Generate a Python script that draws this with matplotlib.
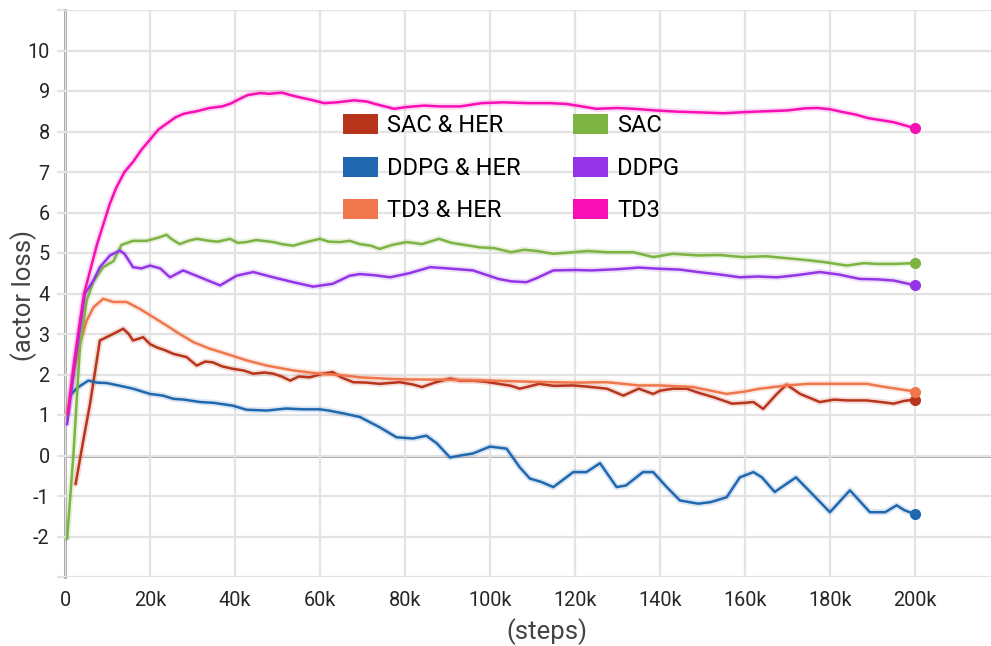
import matplotlib
matplotlib.use('Agg')
import matplotlib.pyplot as plt
from matplotlib.patches import Patch

plt.rcParams['font.family'] = ['Roboto', 'DejaVu Sans']

# values, x in thousands of steps
td3_x = [0.7, 2, 3.5, 4.5, 6, 7.5, 9, 10.5, 12, 14, 16, 18, 20, 22, 24, 26, 28, 31, 34, 37, 39, 41, 43, 46, 48, 51, 53, 55, 58, 61, 64, 68, 71, 73, 77.5, 80, 84.5, 88, 93, 98, 103, 109, 114, 118, 121, 125, 130, 134, 139, 144, 150, 155, 160, 165, 170, 174, 177, 180, 183, 186, 189, 192, 195, 197, 200]
td3_y = [1.05, 2.2, 3.3, 4.0, 4.6, 5.2, 5.7, 6.2, 6.6, 7.0, 7.25, 7.55, 7.8, 8.05, 8.2, 8.35, 8.44, 8.5, 8.58, 8.62, 8.69, 8.8, 8.9, 8.95, 8.93, 8.96, 8.9, 8.85, 8.78, 8.7, 8.72, 8.77, 8.74, 8.68, 8.56, 8.6, 8.64, 8.62, 8.62, 8.7, 8.72, 8.7, 8.7, 8.68, 8.63, 8.56, 8.58, 8.56, 8.52, 8.49, 8.47, 8.45, 8.48, 8.5, 8.52, 8.57, 8.58, 8.55, 8.48, 8.42, 8.33, 8.28, 8.23, 8.17, 8.08]

sac_x = [0.5, 2, 3.5, 5.1, 6.7, 9, 11.4, 13.3, 16, 19.2, 22, 23.9, 25, 27, 29, 31, 34, 36, 38.8, 40.7, 42.7, 45, 49, 51, 53.7, 56, 60, 62, 64.7, 67, 69.4, 72, 74, 77, 80.4, 84, 88, 91, 94, 97.6, 101, 105, 108, 111, 114.9, 119.6, 123, 127.5, 133.7, 138.4, 143, 149, 154, 159.5, 165, 171, 175, 179, 184, 188, 191, 195, 200]
sac_y = [-2.05, 0.05, 2.67, 3.83, 4.3, 4.65, 4.8, 5.2, 5.3, 5.3, 5.38, 5.45, 5.35, 5.22, 5.3, 5.35, 5.3, 5.28, 5.35, 5.25, 5.27, 5.32, 5.27, 5.22, 5.18, 5.25, 5.35, 5.28, 5.27, 5.3, 5.22, 5.18, 5.1, 5.2, 5.27, 5.22, 5.35, 5.25, 5.2, 5.14, 5.12, 5.02, 5.08, 5.05, 4.98, 5.02, 5.05, 5.02, 5.02, 4.9, 4.98, 4.94, 4.95, 4.9, 4.92, 4.86, 4.82, 4.77, 4.69, 4.75, 4.73, 4.73, 4.75]

ddpg_x = [0.5, 2.5, 4.7, 6.7, 8.2, 10.6, 12.9, 14, 16, 18, 20, 22.4, 24.7, 27.8, 31.8, 36.5, 40.4, 44.3, 49, 53.7, 58.4, 63, 67, 69.4, 73, 76.5, 81, 85.9, 90, 96, 102, 105, 108.6, 111, 114.9, 120, 124, 130, 135, 140, 144.7, 149, 154, 158.8, 163, 167.5, 172, 177.6, 182, 187, 191, 195, 198, 200]
ddpg_y = [0.78, 2.4, 4.0, 4.32, 4.65, 4.94, 5.06, 4.98, 4.65, 4.62, 4.69, 4.62, 4.4, 4.57, 4.4, 4.2, 4.44, 4.53, 4.4, 4.28, 4.17, 4.24, 4.44, 4.48, 4.45, 4.4, 4.5, 4.65, 4.62, 4.57, 4.36, 4.3, 4.28, 4.38, 4.57, 4.58, 4.57, 4.6, 4.64, 4.61, 4.59, 4.53, 4.47, 4.4, 4.42, 4.4, 4.45, 4.53, 4.47, 4.36, 4.35, 4.32, 4.25, 4.2]

ddpg_her_x = [1.5, 3, 5.5, 7.5, 9.8, 13, 16, 20, 23, 25.5, 28, 31.8, 35, 39.5, 42.7, 47.5, 52, 56, 60, 62, 65.5, 69.4, 74, 78, 81.9, 85, 87.5, 90.6, 93, 96, 100, 103.9, 107, 109.4, 112, 114.9, 119.6, 122.7, 125.9, 129.8, 132, 136, 138.4, 141.6, 144.7, 149, 152, 155.7, 158.8, 162, 164, 167, 172, 175, 180, 184.7, 189.4, 193, 195.7, 197.5, 200]
ddpg_her_y = [1.52, 1.68, 1.85, 1.8, 1.79, 1.72, 1.65, 1.52, 1.48, 1.4, 1.38, 1.32, 1.3, 1.23, 1.13, 1.11, 1.16, 1.14, 1.14, 1.11, 1.04, 0.95, 0.7, 0.45, 0.42, 0.49, 0.3, -0.05, 0.0, 0.05, 0.22, 0.17, -0.29, -0.57, -0.65, -0.78, -0.41, -0.41, -0.19, -0.78, -0.74, -0.41, -0.41, -0.78, -1.11, -1.19, -1.15, -1.03, -0.54, -0.41, -0.54, -0.9, -0.54, -0.86, -1.4, -0.86, -1.4, -1.4, -1.23, -1.35, -1.45]

td3_her_x = [0.5, 2, 3.5, 5.1, 6.7, 9, 11.4, 14.5, 17.6, 20.7, 23.9, 27, 30.2, 34, 38, 42.7, 47.5, 53.7, 60, 65.5, 69.4, 75, 80, 90, 100, 110, 120, 127.5, 135, 140, 147.8, 155.7, 160, 163.5, 169.8, 175, 183, 188.6, 193, 200]
td3_her_y = [1.0, 2.0, 2.76, 3.33, 3.66, 3.87, 3.79, 3.79, 3.62, 3.42, 3.21, 3.0, 2.8, 2.64, 2.51, 2.35, 2.22, 2.1, 2.02, 1.98, 1.93, 1.9, 1.88, 1.87, 1.85, 1.82, 1.8, 1.81, 1.73, 1.73, 1.69, 1.52, 1.58, 1.65, 1.73, 1.77, 1.77, 1.77, 1.69, 1.58]

sac_her_x = [2.5, 4.3, 5.9, 8.2, 11.3, 13.7, 15, 16, 18.4, 20, 21.6, 23.5, 25.5, 28.6, 31, 33, 34.8, 37, 39.5, 42, 44.3, 47, 49, 51, 53, 55, 57.6, 60.7, 63, 65, 67.8, 71, 74, 78.8, 82, 84, 87, 90.6, 93, 96, 99, 102, 105, 107, 109, 111.6, 115, 119.6, 123, 127.5, 131.4, 135, 138.4, 140, 143, 146.3, 149, 152.6, 157, 160, 162, 164.3, 167.5, 169.8, 173, 177.6, 181, 184, 188.6, 192, 195, 197.5, 200]
sac_her_y = [-0.7, 0.37, 1.28, 2.84, 3.0, 3.13, 3.0, 2.84, 2.92, 2.75, 2.67, 2.6, 2.51, 2.43, 2.22, 2.32, 2.3, 2.2, 2.14, 2.1, 2.02, 2.05, 2.02, 1.95, 1.85, 1.95, 1.93, 2.02, 2.06, 1.93, 1.81, 1.8, 1.77, 1.81, 1.75, 1.69, 1.8, 1.9, 1.85, 1.85, 1.82, 1.77, 1.72, 1.65, 1.7, 1.77, 1.72, 1.73, 1.7, 1.65, 1.48, 1.65, 1.52, 1.6, 1.65, 1.65, 1.55, 1.44, 1.28, 1.3, 1.32, 1.15, 1.52, 1.75, 1.52, 1.32, 1.38, 1.36, 1.36, 1.32, 1.28, 1.35, 1.38]

names = ['SAC & HER', 'DDPG & HER', 'TD3 & HER', 'SAC', 'DDPG', 'TD3']
colors = ['#b8341b', '#1f68b0', '#ef774b', '#7cb342', '#9334e6', '#f70fb5']
series = [(sac_her_x, sac_her_y), (ddpg_her_x, ddpg_her_y), (td3_her_x, td3_her_y),
          (sac_x, sac_y), (ddpg_x, ddpg_y), (td3_x, td3_y)]

x_ticks = [0, 20, 40, 60, 80, 100, 120, 140, 160, 180, 200]
x_labels = ['0', '20k', '40k', '60k', '80k', '100k', '120k', '140k', '160k', '180k', '200k']
y_ticks = [-2, -1, 0, 1, 2, 3, 4, 5, 6, 7, 8, 9, 10]

fig = plt.figure(figsize=(9.91, 6.46), dpi=100)
ax = fig.add_axes([65/991, 1-577/646, 1-65/991, 567/646])

for (xs, ys), c in zip(series, colors):
    # faint halo like the raw curve behind the smoothed one
    ax.plot(xs, ys, color=c, lw=4.5, alpha=0.16, solid_capstyle='round', zorder=2)
    ax.plot(xs, ys, color=c, lw=1.8, zorder=3)
    ax.plot(xs[-1], ys[-1], 'o', color=c, ms=7, zorder=4)

ax.set_xlim(0, 217.9)
ax.set_ylim(-3, 11)
ax.set_xticks(x_ticks)
ax.set_xticklabels(x_labels)
ax.set_yticks(list(range(-3, 12)))
ax.set_yticklabels(['' if v not in y_ticks else str(v) for v in range(-3, 12)])

ax.grid(True, color='#e3e3e3', lw=1.6, zorder=0)
ax.axhline(0, color='#a0a0a0', lw=2, zorder=1)
for s in ['top', 'right', 'bottom']:
    ax.spines[s].set_visible(False)
ax.spines['left'].set_color('#a0a0a0')
ax.spines['left'].set_linewidth(2)
ax.spines['left'].set_zorder(1)

ax.tick_params(axis='y', length=6, width=1.6, color='#e3e3e3', pad=5,
               labelsize=14.3, labelcolor='#262626')
ax.tick_params(axis='x', length=0, pad=10, labelsize=14.3, labelcolor='#262626')

ax.set_xlabel('(steps)', fontsize=18.5, color='#444444')
ax.xaxis.set_label_coords(0.52, -0.072)
ax.set_ylabel('(actor loss)', fontsize=18.5, color='#444444')
ax.yaxis.set_label_coords(-0.030, 0.497)

handles = [Patch(facecolor=c, edgecolor='none') for c in colors]
ax.legend(handles, names, ncol=2, frameon=False, loc='upper left',
          bbox_to_anchor=(0.300, 0.8166), fontsize=17, handlelength=1.48,
          handleheight=0.93, handletextpad=0.4, columnspacing=2.2,
          labelspacing=0.82, borderpad=0, borderaxespad=0)

fig.savefig('out.png', dpi=100)
